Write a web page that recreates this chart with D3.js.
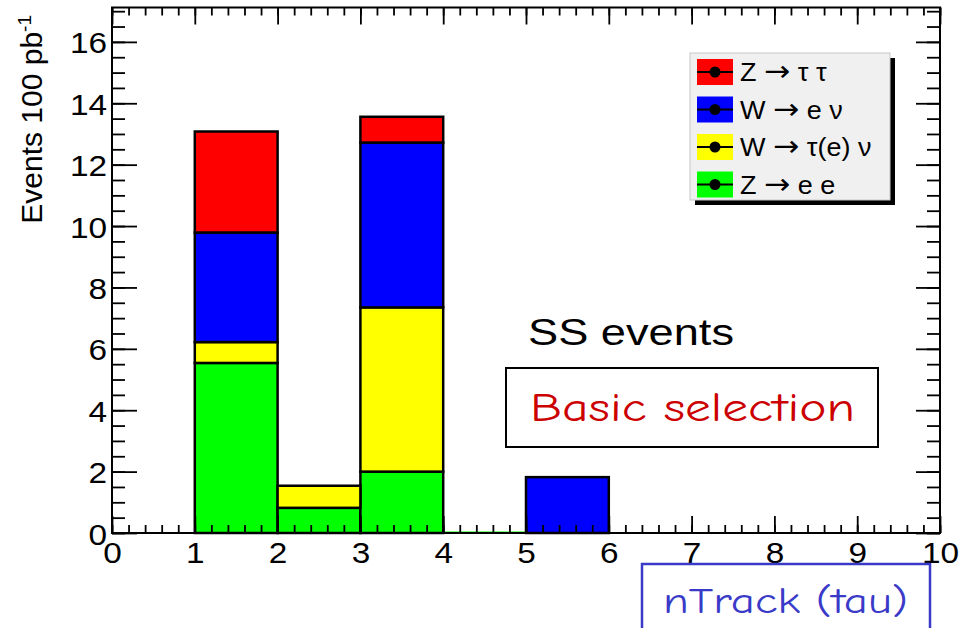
<!DOCTYPE html>
<html>
<head>
<meta charset="utf-8">
<script src="https://cdn.jsdelivr.net/npm/d3@7"></script>
<style>
  body { margin: 0; background: #fff; }
  svg { display: block; }
  text { font-family: "Liberation Sans", Arial, Helvetica, sans-serif; }
</style>
</head>
<body>
<div id="chart"></div>
<script>
// bin lower edges (nTrack), width 1
const binEdges = [0, 1, 2, 3, 4, 5, 6, 7, 8, 9];

// stacked contributions per bin, bottom to top
const zee     = [0, 5.54, 0.82, 2.00, 0.05, 0,    0, 0, 0, 0];
const wtaunu  = [0, 0.68, 0.72, 5.35, 0,    0,    0, 0, 0, 0];
const wenu    = [0, 3.57, 0,    5.37, 0,    1.82, 0, 0, 0, 0];
const ztautau = [0, 3.29, 0,    0.84, 0,    0,    0, 0, 0, 0];

const seriesKeys   = ["zee", "wtaunu", "wenu", "ztautau"];
// legend labels split as [left of arrow, right of arrow]
const seriesNames  = [["Z", "e e"], ["W", "\u03c4(e) \u03bd"], ["W", "e \u03bd"], ["Z", "\u03c4 \u03c4"]];
const seriesColors = ["#00ff00", "#ffff00", "#0000ff", "#ff0000"];

const xTicks = [0, 1, 2, 3, 4, 5, 6, 7, 8, 9, 10];
const yTicks = [0, 2, 4, 6, 8, 10, 12, 14, 16];

const width = 971, height = 628;
const margin = {top: 7.5, right: 31, bottom: 95, left: 112};
const stretch = 1.15; // the reference text is drawn a bit wide

const svg = d3.select("#chart").append("svg")
    .attr("width", width)
    .attr("height", height)
    .attr("viewBox", [0, 0, width, height]);

const x = d3.scaleLinear([0, 10], [margin.left, width - margin.right]);
const y = d3.scaleLinear([0, 17.12], [height - margin.bottom, margin.top]);

// widen a text node horizontally, keeping its anchor
function widen(sel, k = stretch) {
    sel.each(function() {
        const len = this.getComputedTextLength();
        if (len > 0) d3.select(this).attr("textLength", len * k).attr("lengthAdjust", "spacingAndGlyphs");
    });
}

// data table for the stack
const rows = binEdges.map((lo, i) => ({
    lo,
    zee: zee[i], wtaunu: wtaunu[i], wenu: wenu[i], ztautau: ztautau[i]
}));
const stacked = d3.stack().keys(seriesKeys)(rows);

// bars
stacked.forEach((layer, k) => {
    svg.append("g")
        .selectAll("rect")
        .data(layer.filter(d => d[1] - d[0] > 0))
        .join("rect")
        .attr("x", d => x(d.data.lo))
        .attr("width", d => x(d.data.lo + 1) - x(d.data.lo))
        .attr("y", d => y(d[1]))
        .attr("height", d => y(d[0]) - y(d[1]))
        .attr("fill", seriesColors[k])
        .attr("stroke", d => (d[1] - d[0] < 0.1 ? "none" : "#000"))
        .attr("stroke-width", 2.5);
});

// axes: major + minor ticks on all four sides, pointing inward
function styleAxis(g) {
    g.select(".domain").remove();
    g.attr("font-size", 29).attr("font-family", '"Liberation Sans", Arial, sans-serif');
    g.selectAll(".tick line").attr("stroke", "#000").attr("stroke-width", 1.8);
    g.selectAll(".tick text").attr("fill", "#000");
}

const xMinor = d3.range(0, 10.001, 0.2);
const yMinor = d3.range(0, 17.01, 0.5);
const bottomY = y(0), topY = y.range()[1];

svg.append("g").attr("transform", `translate(0,${bottomY})`)
    .call(d3.axisBottom(x).tickValues(xMinor).tickSizeInner(-8).tickSizeOuter(0).tickFormat(""))
    .call(styleAxis);
svg.append("g").attr("transform", `translate(0,${bottomY})`)
    .call(d3.axisBottom(x).tickValues(xTicks).tickSizeInner(-17).tickSizeOuter(0).tickPadding(9).tickFormat(d3.format("d")))
    .call(styleAxis)
    .call(g => g.selectAll(".tick text").call(widen));
svg.append("g").attr("transform", `translate(0,${topY})`)
    .call(d3.axisTop(x).tickValues(xMinor).tickSizeInner(-8).tickSizeOuter(0).tickFormat(""))
    .call(styleAxis);
svg.append("g").attr("transform", `translate(0,${topY})`)
    .call(d3.axisTop(x).tickValues(xTicks).tickSizeInner(-17).tickSizeOuter(0).tickFormat(""))
    .call(styleAxis);

svg.append("g").attr("transform", `translate(${x(0)},0)`)
    .call(d3.axisLeft(y).tickValues(yMinor).tickSizeInner(-13).tickSizeOuter(0).tickFormat(""))
    .call(styleAxis);
svg.append("g").attr("transform", `translate(${x(0)},0)`)
    .call(d3.axisLeft(y).tickValues(yTicks).tickSizeInner(-25).tickSizeOuter(0).tickPadding(5).tickFormat(d3.format("d")))
    .call(styleAxis)
    .call(g => g.selectAll(".tick text").attr("dy", "0.38em").call(widen));
svg.append("g").attr("transform", `translate(${x(10)},0)`)
    .call(d3.axisRight(y).tickValues(yMinor).tickSizeInner(-13).tickSizeOuter(0).tickFormat(""))
    .call(styleAxis);
svg.append("g").attr("transform", `translate(${x(10)},0)`)
    .call(d3.axisRight(y).tickValues(yTicks).tickSizeInner(-24).tickSizeOuter(0).tickFormat(""))
    .call(styleAxis);

// frame
svg.append("rect")
    .attr("x", x(0)).attr("y", topY)
    .attr("width", x(10) - x(0)).attr("height", bottomY - topY)
    .attr("fill", "none").attr("stroke", "#000").attr("stroke-width", 2);

// y axis title
const yTitle = svg.append("text")
    .attr("transform", "translate(42,15) rotate(-90)")
    .attr("text-anchor", "end")
    .style("font-size", "30px")
    .attr("fill", "#000");
yTitle.append("tspan").text("Events 100 pb");
yTitle.append("tspan").attr("dy", "-0.6em").style("font-size", "19px").text("-1");

// legend
const legend = svg.append("g").attr("transform", "translate(690,53)");
legend.append("rect").attr("x", 5).attr("y", 5).attr("width", 200).attr("height", 147).attr("fill", "#000");
legend.append("rect").attr("width", 200).attr("height", 147)
    .attr("fill", "#f0f0f0").attr("stroke", "#c8c8c8").attr("stroke-width", 1);
const legendRows = [3, 2, 1, 0];
legendRows.forEach((k, i) => {
    const cy = 19 + i * 37.5;
    const row = legend.append("g").attr("transform", `translate(0,${cy})`);
    row.append("rect").attr("x", 7).attr("y", -13).attr("width", 36).attr("height", 26)
        .attr("fill", seriesColors[k]);
    row.append("line").attr("x1", 7).attr("x2", 43).attr("y1", 0).attr("y2", 0)
        .attr("stroke", "#000").attr("stroke-width", 2);
    row.append("circle").attr("cx", 25).attr("cy", 0).attr("r", 5.5).attr("fill", "#000");
    const t = row.append("text").attr("x", 50).attr("y", 0).attr("dy", "0.36em")
        .style("font-size", "25px").attr("fill", "#000");
    t.append("tspan").text(seriesNames[k][0] + " ");
    t.append("tspan").style("font-family", '"DejaVu Sans", sans-serif').style("font-size", "29px")
        .text("\u2192");
    t.append("tspan").text(" " + seriesNames[k][1]);
    t.call(widen, 1.08);
});

// annotations
svg.append("text")
    .attr("x", 528).attr("y", 345)
    .attr("textLength", 206).attr("lengthAdjust", "spacingAndGlyphs")
    .style("font-size", "37px").attr("fill", "#000")
    .text("SS events");

svg.append("rect")
    .attr("x", 506).attr("y", 368).attr("width", 372).attr("height", 79)
    .attr("fill", "#fff").attr("stroke", "#000").attr("stroke-width", 2);
svg.append("text")
    .attr("x", 530).attr("y", 421)
    .attr("textLength", 325).attr("lengthAdjust", "spacingAndGlyphs")
    .style("font-family", '"Comic Sans MS", "Comic Neue", "DejaVu Sans", sans-serif')
    .style("font-size", "41px").attr("fill", "#cc0000")
    .text("Basic selection");

svg.append("rect")
    .attr("x", 642).attr("y", 564).attr("width", 288).attr("height", 90)
    .attr("fill", "#fff").attr("stroke", "#3a3ac8").attr("stroke-width", 2.5);
svg.append("text")
    .attr("x", 663).attr("y", 613)
    .attr("textLength", 245).attr("lengthAdjust", "spacingAndGlyphs")
    .style("font-family", '"Comic Sans MS", "Comic Neue", "DejaVu Sans", sans-serif')
    .style("font-size", "37px").attr("fill", "#3a3ac8")
    .text("nTrack (tau)");
</script>
</body>
</html>
